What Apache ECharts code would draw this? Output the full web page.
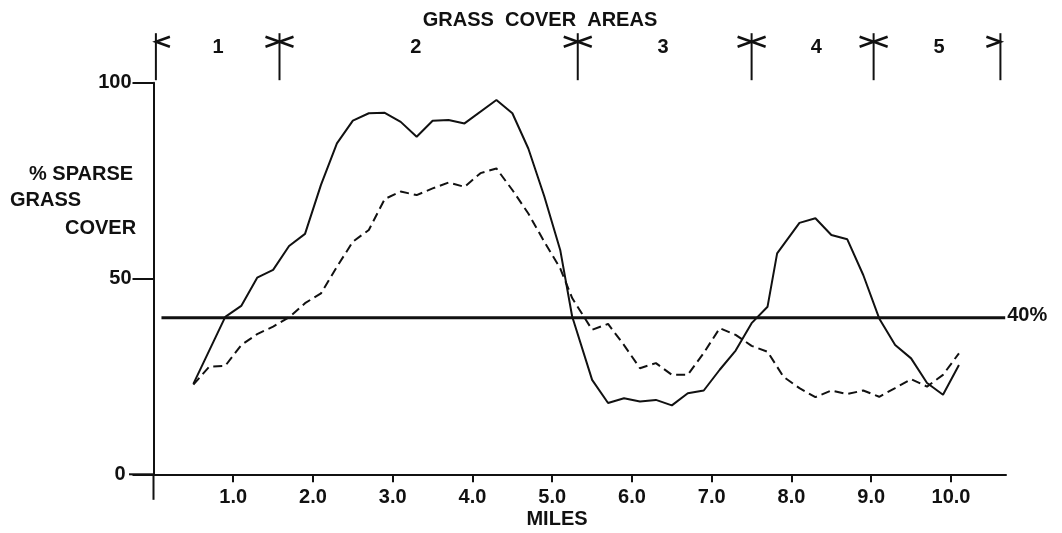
<!DOCTYPE html>
<html>
<head>
<meta charset="utf-8">
<script src="https://cdn.jsdelivr.net/npm/echarts@6/dist/echarts.min.js"></script>
<style>
  html, body { margin: 0; padding: 0; background: #fff; }
  #chart { width: 1062px; height: 533px; }
</style>
</head>
<body>
<div id="chart"></div>
<script>
// Transect readings: % sparse grass cover along the route (miles)
const solidMiles = [0.5, 0.9, 1.1, 1.3, 1.5, 1.7, 1.9, 2.1, 2.3, 2.5, 2.7, 2.9, 3.1, 3.3, 3.5, 3.7, 3.9, 4.3, 4.5, 4.7, 4.9, 5.1, 5.25, 5.5, 5.7, 5.9, 6.1, 6.3, 6.5, 6.7, 6.9, 7.1, 7.3, 7.5, 7.7, 7.82, 8.1, 8.3, 8.5, 8.7, 8.9, 9.1, 9.3, 9.5, 9.7, 9.9, 10.1];
const solidCover = [23.1, 40.2, 43.0, 50.2, 52.2, 58.3, 61.4, 73.9, 84.5, 90.3, 92.2, 92.3, 90.0, 86.2, 90.3, 90.5, 89.6, 95.6, 92.2, 83.2, 71.0, 57.3, 40.3, 24.1, 18.2, 19.4, 18.6, 19.0, 17.6, 20.7, 21.4, 26.7, 31.6, 38.6, 42.8, 56.4, 64.2, 65.4, 61.1, 60.0, 50.9, 39.8, 33.0, 29.6, 23.3, 20.3, 27.9];

const dashedMiles = [0.5, 0.7, 0.9, 1.1, 1.3, 1.5, 1.7, 1.9, 2.1, 2.3, 2.5, 2.7, 2.9, 3.1, 3.3, 3.5, 3.7, 3.9, 4.1, 4.3, 4.5, 4.7, 4.9, 5.1, 5.25, 5.5, 5.7, 5.9, 6.1, 6.3, 6.5, 6.7, 6.9, 7.1, 7.3, 7.5, 7.7, 7.9, 8.1, 8.3, 8.5, 8.7, 8.9, 9.1, 9.3, 9.5, 9.7, 9.9, 10.1];
const dashedCover = [22.9, 27.5, 27.7, 33.0, 35.8, 37.7, 40.1, 43.7, 46.2, 53.0, 59.4, 62.4, 70.3, 72.2, 71.3, 73.0, 74.5, 73.4, 76.9, 78.1, 72.6, 66.6, 59.4, 52.6, 45.0, 36.9, 38.4, 33.0, 27.1, 28.4, 25.4, 25.4, 31.0, 37.3, 35.6, 32.8, 31.3, 24.9, 22.0, 19.7, 21.4, 20.5, 21.4, 19.8, 22.0, 24.3, 22.4, 25.4, 30.9];

// 40 % reference level and its extent along the route
const thresholdLevel = 40;
const thresholdMiles = [0.1, 10.68];

// Grass cover areas: boundaries, names and label positions (miles)
const areaBounds = [0.03, 1.58, 5.32, 7.5, 9.03, 10.62];
const areaNames = ['1', '2', '3', '4', '5'];
const areaLabelMiles = [0.81, 3.29, 6.39, 8.31, 9.85];

// Axis ticks
const mileTicks = [1, 2, 3, 4, 5, 6, 7, 8, 9, 10];
const coverTicks = [0, 50, 100];

const FONT = "'Liberation Sans', Arial, sans-serif";
const INK = '#111';

const zip = (xs, ys) => xs.map((x, i) => [x, ys[i]]);

const chart = echarts.init(document.getElementById('chart'), null, { renderer: 'canvas' });

chart.setOption({
  backgroundColor: '#fff',
  animation: false,
  grid: { left: 153.5, right: 56, top: 82.7, bottom: 58.7, outerBoundsMode: 'none' },
  xAxis: {
    type: 'value',
    min: 0,
    max: 10.69,
    axisLine: { lineStyle: { color: INK, width: 2 } },
    axisTick: { customValues: mileTicks, length: 8, inside: false, lineStyle: { color: INK, width: 2 } },
    axisLabel: {
      customValues: mileTicks,
      formatter: v => v.toFixed(1),
      margin: 13,
      color: INK, fontFamily: FONT, fontWeight: 'bold', fontSize: 20
    },
    splitLine: { show: false }
  },
  yAxis: {
    type: 'value',
    min: 0,
    max: 100,
    axisLine: { lineStyle: { color: INK, width: 2 } },
    axisTick: { customValues: coverTicks, length: 21, inside: false, lineStyle: { color: INK, width: 2 } },
    axisLabel: {
      customValues: coverTicks,
      margin: 22,
      // the zero label sits clear of the extended baseline
      formatter: v => (v === 0 ? '{zero|0}' : String(v)),
      rich: { zero: { padding: [0, 6, 0, 0], color: INK, fontFamily: FONT, fontWeight: 'bold', fontSize: 20 } },
      color: INK, fontFamily: FONT, fontWeight: 'bold', fontSize: 20
    },
    splitLine: { show: false }
  },
  graphic: [
    { type: 'text', x: 540, y: 20, style: { text: 'GRASS  COVER  AREAS', fill: INK, font: `bold 20px ${FONT}`, textAlign: 'center', textVerticalAlign: 'middle' } },
    { type: 'text', x: 29, y: 174, style: { text: '% SPARSE', fill: INK, font: `bold 20px ${FONT}`, textAlign: 'left', textVerticalAlign: 'middle' } },
    { type: 'text', x: 10, y: 200, style: { text: 'GRASS', fill: INK, font: `bold 20px ${FONT}`, textAlign: 'left', textVerticalAlign: 'middle' } },
    { type: 'text', x: 65, y: 228, style: { text: 'COVER', fill: INK, font: `bold 20px ${FONT}`, textAlign: 'left', textVerticalAlign: 'middle' } },
    { type: 'text', x: 557, y: 519, style: { text: 'MILES', fill: INK, font: `bold 20px ${FONT}`, textAlign: 'center', textVerticalAlign: 'middle' } }
  ],
  series: [
    {
      // axis lines carried past the origin, left and downward
      name: 'axisStubs',
      type: 'custom',
      clip: false,
      silent: true,
      data: [[0, 0]],
      renderItem: (params, api) => {
        const o = api.coord([api.value(0), api.value(1)]);
        return {
          type: 'group',
          children: [
            { type: 'line', shape: { x1: o[0] - 24.5, y1: o[1], x2: o[0], y2: o[1] }, style: { stroke: INK, lineWidth: 2 } },
            { type: 'line', shape: { x1: o[0], y1: o[1], x2: o[0], y2: o[1] + 25.5 }, style: { stroke: INK, lineWidth: 2 } }
          ]
        };
      },
      z: 1
    },
    {
      name: 'threshold',
      type: 'line',
      data: thresholdMiles.map(m => [m, thresholdLevel]),
      symbol: 'none',
      lineStyle: { color: INK, width: 3 },
      endLabel: {
        show: true,
        formatter: thresholdLevel + '%',
        distance: 2,
        offset: [0, -2],
        color: INK, fontFamily: FONT, fontWeight: 'bold', fontSize: 20
      },
      silent: true,
      z: 2
    },
    {
      name: 'solid',
      type: 'line',
      data: zip(solidMiles, solidCover),
      symbol: 'none',
      lineStyle: { color: INK, width: 2 },
      z: 3
    },
    {
      name: 'dashed',
      type: 'line',
      data: zip(dashedMiles, dashedCover),
      symbol: 'none',
      lineStyle: { color: INK, width: 2, type: [9, 5] },
      z: 3
    },
    {
      // boundary markers of the grass cover areas, drawn above the plot
      name: 'areaBounds',
      type: 'custom',
      clip: false,
      silent: true,
      data: areaBounds.map((m, i) => [m, i]),
      renderItem: (params, api) => {
        const p = api.coord([api.value(0), 100]);
        const i = api.value(1);
        const x = p[0];
        const top = p[1] - 49.5;
        const bot = p[1] - 2.5;
        const ty = p[1] - 41;
        const children = [
          { type: 'line', shape: { x1: x, y1: top, x2: x, y2: bot }, style: { stroke: INK, lineWidth: 2 } }
        ];
        if (i > 0) {
          children.push({ type: 'polyline', shape: { points: [[x - 14, ty - 5], [x, ty], [x - 14, ty + 5]] }, style: { stroke: INK, lineWidth: 2.5, fill: null } });
        }
        if (i < areaBounds.length - 1) {
          children.push({ type: 'polyline', shape: { points: [[x + 14, ty - 5], [x, ty], [x + 14, ty + 5]] }, style: { stroke: INK, lineWidth: 2.5, fill: null } });
        }
        return { type: 'group', children };
      },
      z: 4
    },
    {
      // area numbers
      name: 'areaNames',
      type: 'custom',
      clip: false,
      silent: true,
      data: areaLabelMiles.map((m, i) => [m, i]),
      renderItem: (params, api) => {
        const p = api.coord([api.value(0), 100]);
        return {
          type: 'text',
          x: p[0],
          y: p[1] - 35,
          style: { text: areaNames[api.value(1)], fill: INK, font: `bold 20px ${FONT}`, textAlign: 'center', textVerticalAlign: 'middle' }
        };
      },
      z: 4
    }
  ]
});
</script>
</body>
</html>
